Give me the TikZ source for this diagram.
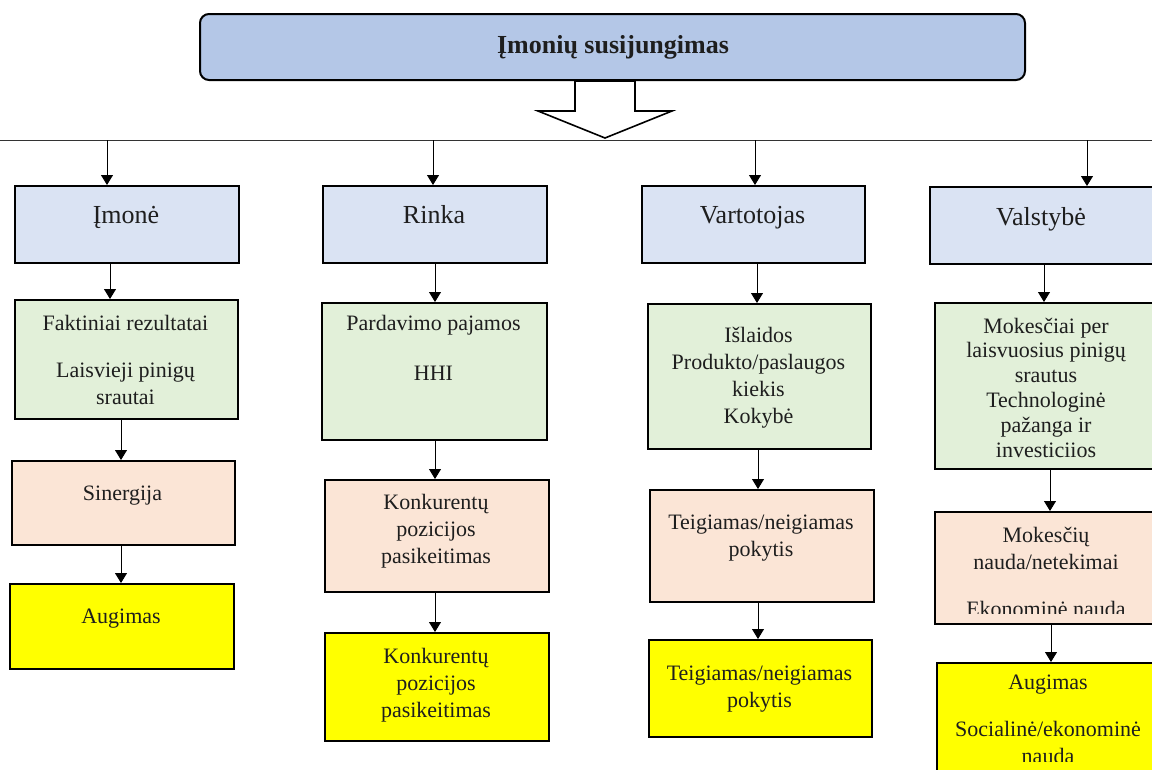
\documentclass[tikz,border=0pt]{standalone}
\usepackage{fontspec}
\setmainfont{Liberation Serif}
\usetikzlibrary{arrows.meta,calc}
\definecolor{titlefill}{HTML}{B4C7E7}
\definecolor{headfill}{HTML}{DAE3F3}
\definecolor{measfill}{HTML}{E2F0D9}
\definecolor{effectfill}{HTML}{FBE5D6}
\definecolor{resultfill}{HTML}{FFFF00}
\definecolor{ink}{HTML}{1E1E1E}
% centred stack of lines whose base anchor is the first baseline
\newcommand\stack[1]{\begin{tabular}[t]{@{}c@{}}#1\end{tabular}}

\begin{document}
\begin{tikzpicture}[x=1pt,y=-1pt,
  box/.style={draw=black, line width=2.2pt, anchor=north west, inner sep=0pt},
  headbox/.style={box, fill=headfill},
  measbox/.style={box, fill=measfill},
  effectbox/.style={box, fill=effectfill},
  resultbox/.style={box, fill=resultfill},
  titlebox/.style={draw=black, line width=2pt, rounded corners=9pt, fill=titlefill,
    minimum width=825pt, minimum height=66pt, inner sep=0pt},
  titletext/.style={anchor=base, inner sep=0pt, text=ink,
    font=\bfseries\fontsize{26}{30}\selectfont},
  lbl/.style={anchor=base, inner sep=0pt, text=ink, font=\fontsize{22}{27}\selectfont},
  hlbl/.style={lbl, font=\fontsize{26}{30}\selectfont},
  conn/.style={draw=black, line width=0.9pt, -{Triangle[length=10pt,width=12pt]}},
  busline/.style={draw=black!80, line width=1pt},
  blockarrow/.style={draw=black, line width=1.6pt, fill=white, line join=miter}]

\clip (0,0) rectangle (1152,769);
\fill[white] (0,0) rectangle (1152,769);

% title and the broad arrow below it
\node[titlebox] (title) at (612.5,47) {};
\node[titletext] (title-t) at (613,53) {Įmonių susijungimas};
\draw[blockarrow] ([xshift=-37.5pt]title.south) -- ++(0,30) -- ++(-37,0) -- ++(67,27)
  -- ++(67,-27) -- ++(-37,0) -- ++(0,-30) -- cycle;

% distribution line
\coordinate (busL) at (0,140);
\coordinate (busR) at (1152,140);
\draw[busline] (busL) -- (busR);
\coordinate (b1) at (107,140);
\coordinate (b2) at (433,140);
\coordinate (b3) at (755,140);
\coordinate (b4) at (1087,140);

% column 1: Įmonė
\node[headbox, minimum width=224pt, minimum height=77pt] (imone) at (14,185) {};
\node[measbox, minimum width=223pt, minimum height=119pt] (fakt) at (14,299) {};
\node[effectbox, minimum width=223pt, minimum height=84pt] (sin) at (11,460) {};
\node[resultbox, minimum width=224pt, minimum height=85pt] (aug) at (9,583) {};
\node[hlbl] (imone-t) at (126,223) {Įmonė};
\node[lbl] (fakt-t) at (125.5,330) {\stack{Faktiniai rezultatai\\[20pt] Laisvieji pinigų\\ srautai}};
\node[lbl] (sin-t) at (122.5,500) {Sinergija};
\node[lbl] (aug-t) at (121,623) {Augimas};

% column 2: Rinka
\node[headbox, minimum width=224pt, minimum height=77pt] (rinka) at (322,185) {};
\node[measbox, minimum width=225pt, minimum height=137pt] (pard) at (321,302) {};
\node[effectbox, minimum width=224pt, minimum height=112pt] (konk) at (324,479) {};
\node[resultbox, minimum width=224pt, minimum height=108pt] (konkr) at (324,632) {};
\node[hlbl] (rinka-t) at (434,223) {Rinka};
\node[lbl] (pard-t) at (433.5,330) {\stack{Pardavimo pajamos\\[23pt] HHI}};
\node[lbl] (konk-t) at (436,509) {\stack{Konkurentų\\ pozicijos\\ pasikeitimas}};
\node[lbl] (konkr-t) at (436,663) {\stack{Konkurentų\\ pozicijos\\ pasikeitimas}};

% column 3: Vartotojas
\node[headbox, minimum width=223pt, minimum height=77pt] (vart) at (641,185) {};
\node[measbox, minimum width=223pt, minimum height=145pt] (isl) at (647,303) {};
\node[effectbox, minimum width=224pt, minimum height=112pt] (teig) at (649,489) {};
\node[resultbox, minimum width=223pt, minimum height=97pt] (teigr) at (648,639) {};
\node[hlbl] (vart-t) at (752.5,223) {Vartotojas};
\node[lbl] (isl-t) at (758.5,342) {\stack{Išlaidos\\ Produkto/paslaugos\\ kiekis\\ Kokybė}};
\node[lbl] (teig-t) at (761,529) {\stack{Teigiamas/neigiamas\\ pokytis}};
\node[lbl] (teigr-t) at (759.5,680) {\stack{Teigiamas/neigiamas\\ pokytis}};

% column 4: Valstybė
\node[headbox, minimum width=224pt, minimum height=77pt] (valst) at (929,186) {};
\node[measbox, minimum width=224pt, minimum height=166pt] (mok) at (934,302) {};
\node[effectbox, minimum width=224pt, minimum height=112pt] (mokn) at (934,511) {};
\node[resultbox, minimum width=224pt, minimum height=138pt] (augr) at (936,662) {};
\node[hlbl] (valst-t) at (1041,225) {Valstybė};
\node[lbl, font=\fontsize{22}{24.8}\selectfont] (mok-t) at (1046,333)
  {\stack{Mokesčiai per\\ laisvuosius pinigų\\ srautus\\ Technologinė\\ pažanga ir\\ investiciios}};
\begin{scope}
  \clip (930,511) rectangle (1165,613);
  \node[lbl] (mokn-t) at (1046,542) {\stack{Mokesčių\\ nauda/netekimai\\[20pt] Ekonominė nauda}};
\end{scope}
\begin{scope}
  \clip (930,662) rectangle (1165,761);
  \node[lbl] (augr-t) at (1048,689) {\stack{Augimas\\[20pt] Socialinė/ekonominė\\ nauda}};
\end{scope}

% arrow columns
\coordinate (x1) at (110,0);
\coordinate (x2) at (121,0);
\coordinate (x3) at (435,0);
\coordinate (x4) at (757,0);
\coordinate (x5) at (758,0);
\coordinate (x6) at (1044,0);
\coordinate (x7) at (1050,0);
\coordinate (x8) at (1051,0);

% connectors
\draw[conn] (b1) -- (b1 |- imone.north);
\draw[conn] (imone.south -| x1) -- (fakt.north -| x1);
\draw[conn] (fakt.south -| x2) -- (sin.north -| x2);
\draw[conn] (sin.south -| x2) -- (aug.north -| x2);

\draw[conn] (b2) -- (b2 |- rinka.north);
\draw[conn] (rinka.south -| x3) -- (pard.north -| x3);
\draw[conn] (pard.south -| x3) -- (konk.north -| x3);
\draw[conn] (konk.south -| x3) -- (konkr.north -| x3);

\draw[conn] (b3) -- (b3 |- vart.north);
\draw[conn] (vart.south -| x4) -- (isl.north -| x4);
\draw[conn] (isl.south -| x5) -- (teig.north -| x5);
\draw[conn] (teig.south -| x5) -- (teigr.north -| x5);

\draw[conn] (b4) -- (b4 |- valst.north);
\draw[conn] (valst.south -| x6) -- (mok.north -| x6);
\draw[conn] (mok.south -| x7) -- (mokn.north -| x7);
\draw[conn] (mokn.south -| x8) -- (augr.north -| x8);
\end{tikzpicture}
\end{document}
